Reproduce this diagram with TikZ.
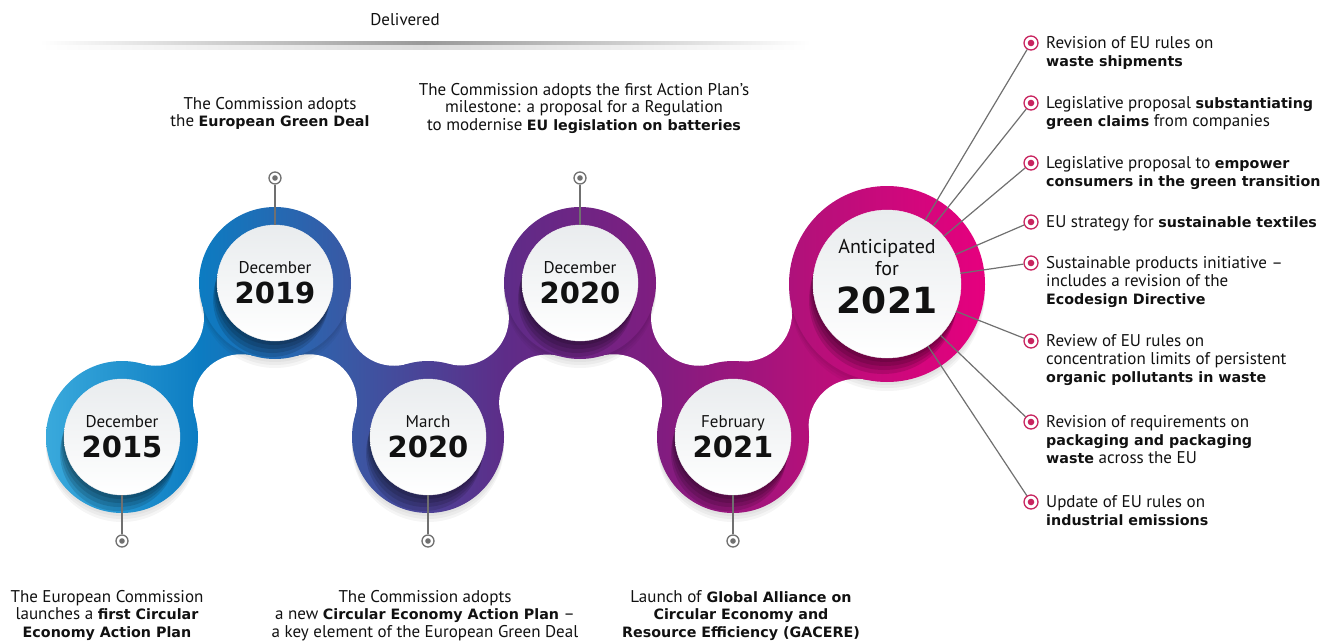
\documentclass[tikz,border=0pt]{standalone}
\usepackage{fontspec}
\setmainfont{PT Sans}[BoldFont={DejaVu Sans Bold}, BoldFeatures={Scale=0.84}]
\newfontfamily\yearfont{DejaVu Sans}
\usetikzlibrary{positioning}

\definecolor{rA}{HTML}{3BABDD}
\definecolor{rB}{HTML}{0C7CC2}
\definecolor{rC}{HTML}{3A58A4}
\definecolor{rD}{HTML}{5E2C88}
\definecolor{rE}{HTML}{7F1D80}
\definecolor{rF}{HTML}{B5107A}
\definecolor{rG}{HTML}{E6007E}
\definecolor{leadgrey}{HTML}{707070}
\definecolor{dotpink}{HTML}{C8245F}
\definecolor{disktop}{HTML}{E9ECEE}
\definecolor{ink}{HTML}{111111}

\pgfdeclarehorizontalshading{ribbon}{100bp}{color(0bp)=(rA); color(25bp)=(rA); color(33.4bp)=(rB); color(41.3bp)=(rC); color(49.5bp)=(rD); color(57.4bp)=(rE); color(65.5bp)=(rF); color(74.7bp)=(rG); color(100bp)=(rG)}

% centres of the two fillet circles between two rings -> (#8a), (#8b)
\newcommand{\neckpair}[8]{%
  \pgfmathsetmacro{\fdx}{(#4-#1)/100}%
  \pgfmathsetmacro{\fdy}{(#5-#2)/100}%
  \pgfmathsetmacro{\fd}{sqrt(\fdx*\fdx+\fdy*\fdy)}%
  \pgfmathsetmacro{\fa}{(#3+#7)/100}%
  \pgfmathsetmacro{\fb}{(#6+#7)/100}%
  \pgfmathsetmacro{\fs}{(\fa*\fa-\fb*\fb+\fd*\fd)/(2*\fd)}%
  \pgfmathsetmacro{\fh}{sqrt(\fa*\fa-\fs*\fs)}%
  \coordinate (#8a) at ({#1+100*(\fs*\fdx-\fh*\fdy)/\fd},{#2+100*(\fs*\fdy+\fh*\fdx)/\fd});
  \coordinate (#8b) at ({#1+100*(\fs*\fdx+\fh*\fdy)/\fd},{#2+100*(\fs*\fdy-\fh*\fdx)/\fd});
}

\begin{document}
\begin{tikzpicture}[x=1pt,y=-1pt,font=\fontsize{17}{18}\selectfont,text=ink]
\tikzset{
datecircle/.style={circle, minimum size=116pt, inner sep=0pt, top color=disktop, bottom color=white, draw=gray!12, align=center, font=\fontsize{17}{30}\selectfont},
bigcircle/.style={datecircle, minimum size=148pt, font=\fontsize{20}{22}\selectfont},
greydot/.style={circle, draw=leadgrey, line width=1.3pt, fill=white, minimum size=12pt, inner sep=0pt, path picture={\fill[leadgrey] (path picture bounding box.center) circle[radius=2.8pt];}},
pinkdot/.style={circle, draw=dotpink, line width=1.3pt, fill=white, minimum size=14pt, inner sep=0pt, path picture={\fill[dotpink] (path picture bounding box.center) circle[radius=3.3pt];}},
leader/.style={draw=leadgrey, line width=1.2pt},
item/.style={anchor=north west, align=left, inner sep=0pt, font=\fontsize{17}{18}\selectfont, execute at begin node=\strut},
note/.style={anchor=north, align=center, inner sep=0pt, font=\fontsize{17}{17.5}\selectfont, execute at begin node=\strut},
}
\useasboundingbox (0,0) rectangle (1341,640);

% header
\node (delivered) at (405,20) {Delivered};
\shade[left color=white, right color=white, middle color=black!40] (40,41) rectangle (810,45);
\shade[left color=white, right color=white, middle color=black!14] (40,45) rectangle (810,49);

% ribbon
\coordinate (c1) at (122,437);
\coordinate (c2) at (275,283);
\coordinate (c3) at (428,437);
\coordinate (c4) at (580,283);
\coordinate (c5) at (733,437);
\coordinate (c6) at (887,284);
\neckpair{122}{437}{76}{275}{283}{76}{48}{n1}
\neckpair{275}{283}{76}{428}{437}{76}{48}{n2}
\neckpair{428}{437}{76}{580}{283}{76}{48}{n3}
\neckpair{580}{283}{76}{733}{437}{76}{48}{n4}
\neckpair{733}{437}{76}{887}{284}{98}{48}{n5}

\begin{scope}
\clip (c1) -- (n1a) -- (c2) -- (n1b) -- cycle
  (c2) -- (n2a) -- (c3) -- (n2b) -- cycle
  (c3) -- (n3a) -- (c4) -- (n3b) -- cycle
  (c4) -- (n4a) -- (c5) -- (n4b) -- cycle
  (c5) -- (n5a) -- (c6) -- (n5b) -- cycle;
\shade[shading=ribbon] (40,150) rectangle (990,530);
\end{scope}
\fill[white] (n1a) circle[radius=48] (n1b) circle[radius=48]
  (n2a) circle[radius=48] (n2b) circle[radius=48]
  (n3a) circle[radius=48] (n3b) circle[radius=48]
  (n4a) circle[radius=48] (n4b) circle[radius=48]
  (n5a) circle[radius=48] (n5b) circle[radius=48];

% soft shadow below the rings
\foreach \k in {3,6,9}
  \fill[black, opacity=0.04] ([yshift=-\k pt]c1) circle[radius=76] ([yshift=-\k pt]c2) circle[radius=76]
    ([yshift=-\k pt]c3) circle[radius=76] ([yshift=-\k pt]c4) circle[radius=76]
    ([yshift=-\k pt]c5) circle[radius=76] ([yshift=-\k pt]c6) circle[radius=98];

\begin{scope}
\clip (c1) circle[radius=76] (c2) circle[radius=76] (c3) circle[radius=76]
  (c4) circle[radius=76] (c5) circle[radius=76] (c6) circle[radius=98];
\shade[shading=ribbon] (40,150) rectangle (990,530);
% shadow under the discs
\foreach \x/\y/\r in {122/437/58, 275/283/58, 428/437/58, 580/283/58, 733/437/58, 887/284/74}
  \foreach \k in {4,8,12,16}
    \fill[black, opacity=0.13] ({\x-0.25*\k},{\y+\k}) circle[radius=\r];
\end{scope}

% discs
\node[datecircle] (dec15) at (c1) {December\\{\yearfont\bfseries\fontsize{29}{30}\selectfont 2015}};
\node[datecircle] (dec19) at (c2) {December\\{\yearfont\bfseries\fontsize{29}{30}\selectfont 2019}};
\node[datecircle] (mar20) at (c3) {March\\{\yearfont\bfseries\fontsize{29}{30}\selectfont 2020}};
\node[datecircle] (dec20) at (c4) {December\\{\yearfont\bfseries\fontsize{29}{30}\selectfont 2020}};
\node[datecircle] (feb21) at (c5) {February\\{\yearfont\bfseries\fontsize{29}{30}\selectfont 2021}};
\node[bigcircle] (ant21) at (c6) {Anticipated\\for\\[10pt]{\yearfont\bfseries\fontsize{36}{30}\selectfont 2021}\rule[-16pt]{0pt}{16pt}};

% delivered milestones
\node[greydot] (pdec19) at (275,178) {};
\node[greydot] (pdec20) at (580,178) {};
\node[greydot] (pdec15) at (122,541) {};
\node[greydot] (pmar20) at (428,541) {};
\node[greydot] (pfeb21) at (733,541) {};
\draw[leader] (dec19) -- (pdec19);
\draw[leader] (dec20) -- (pdec20);
\draw[leader] (dec15) -- (pdec15);
\draw[leader] (mar20) -- (pmar20);
\draw[leader] (feb21) -- (pfeb21);

\node[note] (tdec19) at (270,97) {The Commission adopts\\the \textbf{European Green Deal}};
\node[note] (tdec20) at (584,83) {The Commission adopts the first Action Plan’s\\milestone: a proposal for a Regulation\\to modernise \textbf{EU legislation on batteries}};
\node[note] (tdec15) at (107,590) {The European Commission\\launches a \textbf{first Circular}\\\textbf{Economy Action Plan}};
\node[note] (tmar20) at (425,590) {The Commission adopts\\a new \textbf{Circular Economy Action Plan} –\\a key element of the European Green Deal};
\node[note] (tfeb21) at (741,590) {Launch of \textbf{Global Alliance on}\\\textbf{Circular Economy and}\\\textbf{Resource Efficiency (GACERE)}};

% anticipated for 2021
\node[pinkdot] (m1) at (1031,43) {};
\node[pinkdot] (m2) at (1031,103) {};
\node[pinkdot] (m3) at (1031,163) {};
\node[pinkdot] (m4) at (1031,222) {};
\node[pinkdot] (m5) at (1031,263) {};
\node[pinkdot] (m6) at (1031,341) {};
\node[pinkdot] (m7) at (1031,422) {};
\node[pinkdot] (m8) at (1031,502) {};
\foreach \m in {m1,m2,m3,m4,m5,m6,m7,m8}
  \draw[leader] (ant21) -- (\m);

\node[item] (t1) at (1046,36) {Revision of EU rules on\\\textbf{waste shipments}};
\node[item] (t2) at (1046,96) {Legislative proposal \textbf{substantiating}\\\textbf{green claims} from companies};
\node[item] (t3) at (1046,156) {Legislative proposal to \textbf{empower}\\\textbf{consumers in the green transition}};
\node[item] (t4) at (1046,215) {EU strategy for \textbf{sustainable textiles}};
\node[item] (t5) at (1046,256) {Sustainable products initiative –\\includes a revision of the\\\textbf{Ecodesign Directive}};
\node[item] (t6) at (1046,334) {Review of EU rules on\\concentration limits of persistent\\\textbf{organic pollutants in waste}};
\node[item] (t7) at (1046,415) {Revision of requirements on\\\textbf{packaging and packaging}\\\textbf{waste} across the EU};
\node[item] (t8) at (1046,495) {Update of EU rules on\\\textbf{industrial emissions}};
\end{tikzpicture}
\end{document}
